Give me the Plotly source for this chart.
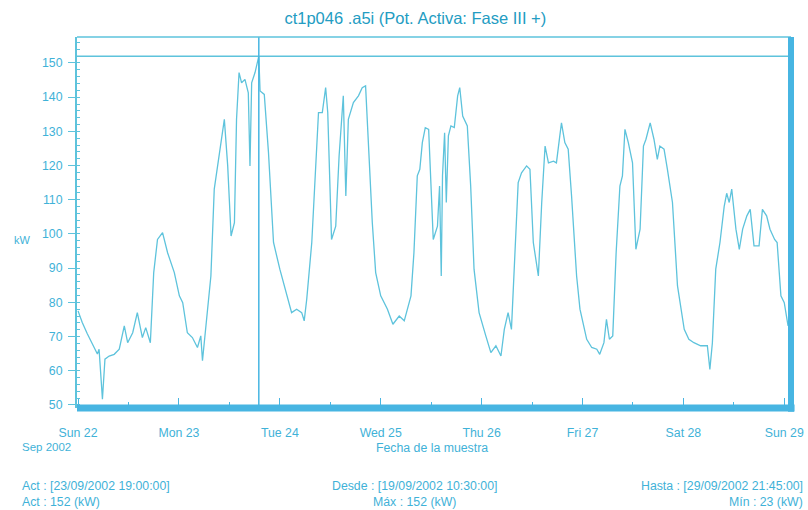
import pandas as pd
import plotly.graph_objects as go

# ---- data (hours after 2002-09-22 00:00, kW) ----
hours = [0.0, 1.0, 2.2, 3.4, 4.6, 5.0, 5.8, 6.4, 7.4, 8.6, 9.8, 11.0, 11.8, 13.0, 14.1, 15.3,
         16.1, 17.2, 18.0, 18.9, 20.1, 21.3, 22.9, 24.1, 24.9, 26.0, 27.2, 28.4, 29.2, 29.6,
         30.4, 31.6, 32.4, 33.2, 34.8, 35.6, 36.4, 37.2, 37.7, 38.3, 38.9, 39.7, 40.5, 40.9,
         41.3, 42.1, 43.0, 43.3, 44.3, 45.3, 46.5, 48.0, 49.6, 50.8, 52.0, 53.2, 53.8, 54.4,
         55.6, 56.8, 57.2, 58.1, 58.9, 59.4, 60.3, 61.3, 62.1, 63.1, 63.7, 64.3, 65.5, 66.7,
         67.6, 68.4, 69.2, 70.0, 70.8, 72.0, 73.6, 74.9, 76.4, 77.6, 79.2, 79.9, 80.7, 81.3,
         81.9, 82.6, 83.4, 83.9, 84.5, 85.5, 86.0, 86.4, 86.7, 87.2, 87.6, 88.1, 88.7, 89.5,
         90.3, 90.8, 91.5, 92.6, 93.4, 94.2, 95.4, 97.0, 98.2, 99.4, 100.6, 101.4, 102.3,
         103.1, 103.9, 104.7, 105.5, 106.7, 107.5, 108.3, 109.5, 110.3, 111.1, 111.9, 113.1,
         113.8, 114.6, 115.0, 115.8, 116.6, 117.4, 118.6, 119.4, 121.0, 122.2, 123.4, 124.1,
         125.1, 125.7, 126.4, 127.2, 128.0, 128.9, 129.5, 130.1, 130.9, 131.9, 132.7, 133.7,
         134.5, 135.1, 136.1, 137.0, 137.8, 138.4, 139.4, 140.2, 141.4, 142.6, 144.2, 145.3,
         146.5, 148.1, 149.7, 150.3, 150.9, 151.7, 152.7, 153.7, 154.3, 154.9, 155.5, 156.5,
         157.3, 158.1, 159.1, 159.9, 160.8, 162.0, 162.8, 163.8, 164.6, 165.7, 166.3, 167.2,
         168.0, 168.9]
kw = [77.5, 74.1, 70.8, 67.8, 64.9, 66.3, 51.7, 63.4, 64.3, 64.8, 66.3, 73.1, 68.2, 71.1, 77.0, 69.7,
      72.6, 68.2, 88.7, 98.4, 100.4, 94.5, 88.7, 81.9, 79.9, 71.1, 69.7, 66.8, 70.2, 62.9,
      72.1, 87.7, 113.1, 119.9, 133.5, 119.9, 99.4, 103.3, 133.5, 147.2, 144.2, 145.2, 141.3, 119.9,
      144.2, 147.2, 152.0, 141.8, 140.8, 123.8, 97.5, 89.7, 82.8, 77.0, 78.0, 77.0, 74.6, 80.9,
      97.5, 128.7, 135.5, 135.5, 142.8, 135.5, 98.4, 102.3, 122.8, 140.4, 111.1, 133.5, 138.4, 140.4,
      142.8, 143.3, 123.8, 103.3, 88.7, 81.9, 78.0, 73.6, 76.0, 74.6, 81.9, 94.5, 117.0, 118.9,
      126.7, 131.1, 130.6, 117.0, 98.4, 102.3, 114.0, 87.7, 117.0, 129.6, 109.2, 128.7, 131.6, 131.1,
      140.4, 142.8, 134.5, 131.6, 114.0, 89.7, 77.0, 70.2, 65.3, 67.3, 64.3, 72.1, 77.0,
      72.1, 94.5, 115.0, 117.9, 119.9, 118.9, 97.5, 87.7, 109.2, 125.7, 120.8, 121.3,
      120.8, 128.7, 132.5, 126.7, 124.8, 111.1, 87.7, 78.0, 69.2, 66.8, 66.3, 64.8,
      68.2, 75.0, 69.2, 70.2, 94.5, 114.0, 117.0, 130.6, 126.7, 120.8, 95.5, 101.4,
      125.7, 127.7, 132.5, 127.7, 121.8, 125.7, 124.8, 118.9, 109.2, 84.8, 72.1, 69.2,
      68.2, 67.3, 67.3, 60.4, 68.2, 89.7, 97.5, 108.0, 111.9, 109.2, 113.1, 101.4,
      95.5, 101.4, 105.3, 107.2, 96.5, 96.5, 107.2, 105.3, 101.4, 98.4, 97.5, 81.9,
      79.9, 73.1]

start = pd.Timestamp("2002-09-22 00:00")
times = start + pd.to_timedelta(hours, unit="h")

cursor_time = "2002-09-23 19:00"
max_kw = 152
y_ticks = [50, 60, 70, 80, 90, 100, 110, 120, 130, 140, 150]
x_range = ["2002-09-21 23:45", "2002-09-29 01:36"]
y_range = [49.1, 157.6]

title_text = "ct1p046 .a5i (Pot. Activa: Fase III +)"
footer = {
    "act_date": "Act : [23/09/2002 19:00:00]",
    "act_val": "Act : 152 (kW)",
    "desde": "Desde : [19/09/2002 10:30:00]",
    "max": "Máx : 152 (kW)",
    "hasta": "Hasta : [29/09/2002 21:45:00]",
    "min": "Mín : 23 (kW)",
}

LINE = "#5ec3dc"
TXT = "#3fb2d8"
FRAME = "#47b5e2"
FONT = "Liberation Sans, Arial, sans-serif"
FS = 12.3

fig = go.Figure()
fig.add_trace(go.Scatter(x=times, y=kw, mode="lines",
                         line=dict(color=LINE, width=1.3), showlegend=False,
                         hoverinfo="x+y"))

shapes = [
    dict(type="line", xref="paper", yref="y", x0=0, x1=1, y0=max_kw, y1=max_kw,
         line=dict(color=LINE, width=1.5)),
    dict(type="line", xref="x", yref="paper", x0=cursor_time, x1=cursor_time, y0=0, y1=1,
         line=dict(color=FRAME, width=1.5)),
    dict(type="line", xref="paper", yref="paper", x0=0, x1=1, y0=1, y1=1,
         line=dict(color=LINE, width=1.5)),
    dict(type="line", xref="paper", yref="paper", x0=1, x1=1, y0=-0.01, y1=1,
         line=dict(color=FRAME, width=6)),
    dict(type="line", xref="paper", yref="paper", x0=0, x1=1.005, y0=0, y1=0,
         line=dict(color=FRAME, width=7)),
]

def ann(text, x, y, xanchor, size=FS):
    return dict(text=text, x=x, y=y, xref="paper", yref="paper", xanchor=xanchor,
                yanchor="middle", showarrow=False, font=dict(family=FONT, size=size, color=TXT))

annotations = [
    ann("kW", -0.077, 0.453, "center", 11),
    ann("Sep 2002", -0.080, -0.105, "left", 11.5),
    ann("Fecha de la muestra", 0.497, -0.108, "center"),
    ann(footer["act_date"], -0.080, -0.210, "left"),
    ann(footer["act_val"], -0.080, -0.253, "left"),
    ann(footer["desde"], 0.473, -0.210, "center"),
    ann(footer["max"], 0.473, -0.253, "center"),
    ann(footer["hasta"], 1.020, -0.210, "right"),
    ann(footer["min"], 1.020, -0.253, "right"),
]

fig.update_layout(
    width=808, height=510,
    margin=dict(l=77, r=17, t=37, b=102, autoexpand=False),
    paper_bgcolor="white", plot_bgcolor="white",
    font=dict(family=FONT, color=TXT, size=FS),
    title=dict(text=title_text, x=0.514, xanchor="center", y=0.965, yanchor="middle",
               font=dict(family=FONT, size=16.5, color="#239cc2")),
    shapes=shapes, annotations=annotations,
    xaxis=dict(type="date", range=x_range, tick0="2002-09-22", dtick=86400000,
               tickformat="%a %d", showgrid=False, zeroline=False, showline=False,
               automargin=False,
               ticks="inside", ticklen=10, tickcolor=FRAME, tickwidth=1,
               ticklabelstandoff=16, tickfont=dict(size=FS, color=TXT),
               minor=dict(dtick=43200000, ticks="inside", ticklen=6, tickcolor=FRAME)),
    yaxis=dict(range=y_range, tickvals=y_ticks, showgrid=False, zeroline=False,
               showline=True, linecolor=LINE, linewidth=2, automargin=False,
               ticks="outside", ticklen=7, tickcolor=LINE, tickwidth=1,
               ticklabelstandoff=3, tickfont=dict(size=FS, color=TXT),
               minor=dict(dtick=2, ticks="inside", ticklen=3, tickcolor=LINE)),
)

# remove the default 8px page margin so the 808x510 figure fills the window exactly
fig.write_html("out.html", config={"responsive": False, "displayModeBar": False},
               post_script="document.body.style.margin='0';document.body.style.overflow='hidden';")
